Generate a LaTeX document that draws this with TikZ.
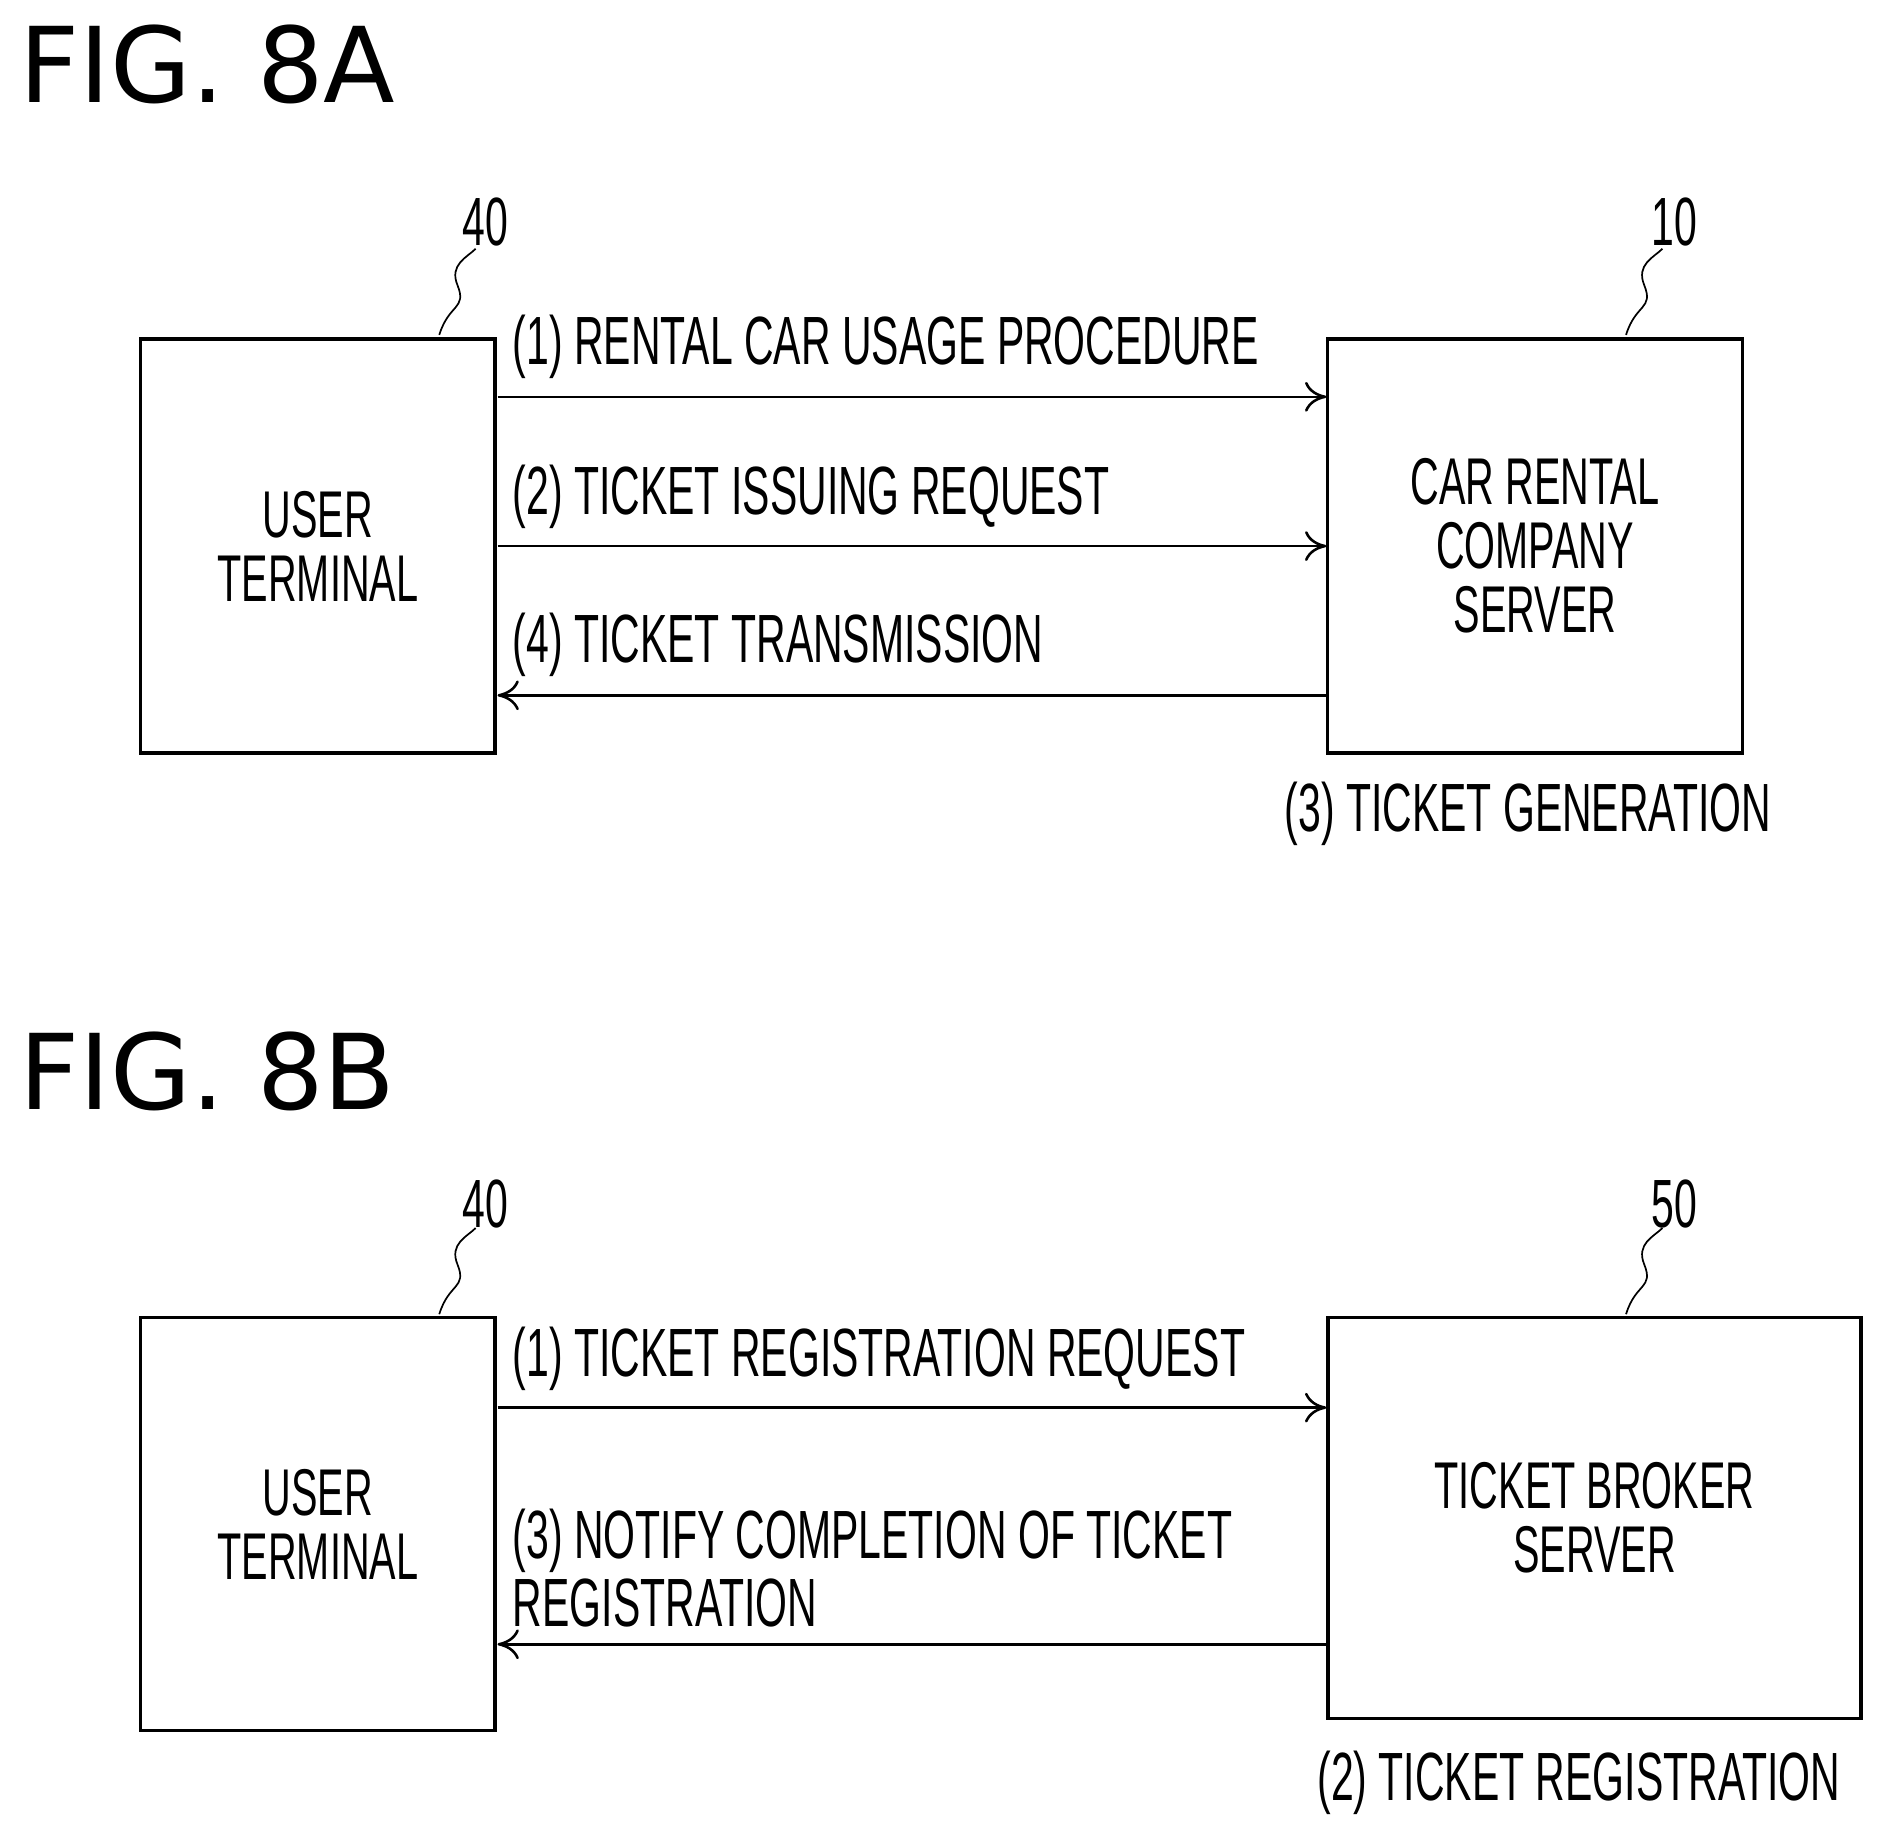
\documentclass[tikz,border=0pt]{standalone}
\usepackage{fontspec}
\setmainfont[FakeStretch=0.6]{Liberation Sans}
\newfontfamily\figfont{DejaVu Sans}
\usetikzlibrary{arrows.meta}
\begin{document}
\begin{tikzpicture}[x=0.01cm, y=-0.01cm,
    box/.style={draw, thick, inner sep=0pt, align=center, font=\fontsize{15.5}{15}\selectfont},
    lbl/.style={font=\fontsize{16}{19}\selectfont, inner sep=0pt, anchor=base west},
    fig/.style={font=\figfont\fontsize{24.5}{28}\selectfont, inner sep=0pt, anchor=north west},
    msg/.style={-{To[length=5pt,width=7pt]}, semithick}]
    \useasboundingbox (0,0) rectangle (1560,1503);

    % FIG. 8A
    \node[fig] (figA) at (15,20) {FIG. 8A};
    \node[box, minimum width=2.92cm, minimum height=3.41cm] (userA) at (262,450) {USER\\TERMINAL};
    \node[box, minimum width=3.42cm, minimum height=3.41cm] (srvA) at (1265,450) {CAR RENTAL\\COMPANY\\SERVER};
    \node[lbl, anchor=center] (refA1) at (400,183) {40};
    \node[lbl, anchor=center] (refA2) at (1380,183) {10};
    \draw (362,276) .. controls (370,250) and (385,255) .. (377,235) .. controls (370,218) and (385,212) .. (392,205);
    \draw (1340,276) .. controls (1348,250) and (1363,255) .. (1355,235) .. controls (1348,218) and (1363,212) .. (1370,205);

    \coordinate (a1) at (410,327); \coordinate (b1) at (1093,327);
    \coordinate (a2) at (410,450); \coordinate (b2) at (1093,450);
    \coordinate (a4) at (410,573); \coordinate (b4) at (1093,573);
    \draw[msg] (a1) -- (b1);
    \draw[msg] (a2) -- (b2);
    \draw[msg] (b4) -- (a4);
    \node[lbl] (m1) at (422,300) {(1) RENTAL CAR USAGE PROCEDURE};
    \node[lbl] (m2) at (422,424) {(2) TICKET ISSUING REQUEST};
    \node[lbl] (m4) at (422,546) {(4) TICKET TRANSMISSION};
    \node[lbl] (m3) at (1058,685) {(3) TICKET GENERATION};

    % FIG. 8B
    \node[fig] (figB) at (15,850) {FIG. 8B};
    \node[box, minimum width=2.92cm, minimum height=3.40cm] (userB) at (262,1256) {USER\\TERMINAL};
    \node[box, minimum width=4.39cm, minimum height=3.30cm] (srvB) at (1314,1251) {TICKET BROKER\\SERVER};
    \node[lbl, anchor=center] (refB1) at (400,992) {40};
    \node[lbl, anchor=center] (refB2) at (1380,992) {50};
    \draw (362,1083) .. controls (370,1057) and (385,1062) .. (377,1042) .. controls (370,1025) and (385,1019) .. (392,1012);
    \draw (1340,1083) .. controls (1348,1057) and (1363,1062) .. (1355,1042) .. controls (1348,1025) and (1363,1019) .. (1370,1012);

    \coordinate (c1) at (410,1160); \coordinate (d1) at (1093,1160);
    \coordinate (c3) at (410,1355); \coordinate (d3) at (1093,1355);
    \draw[msg] (c1) -- (d1);
    \draw[msg] (d3) -- (c3);
    \node[lbl] (n1) at (422,1134) {(1) TICKET REGISTRATION REQUEST};
    \node[lbl] (n3) at (422,1284) {(3) NOTIFY COMPLETION OF TICKET};
    \node[lbl] (n3b) at (422,1340) {REGISTRATION};
    \node[lbl] (n2) at (1085,1484) {(2) TICKET REGISTRATION};
\end{tikzpicture}
\end{document}
